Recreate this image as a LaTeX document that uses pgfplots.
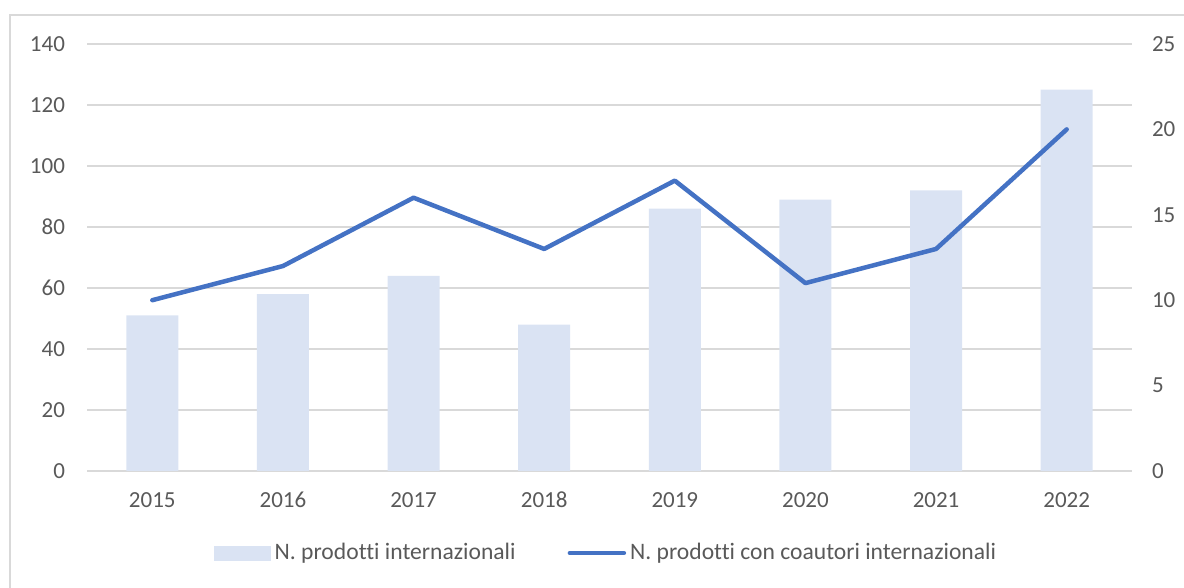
\documentclass[border=0pt]{standalone}
\usepackage{fontspec}
\setmainfont{Carlito}[Ligatures=NoCommon]
\usepackage{pgfplots}
\pgfplotsset{compat=1.18}
\definecolor{barfill}{HTML}{DAE3F3}
\definecolor{linecol}{HTML}{4472C4}
\definecolor{gridcol}{HTML}{D9D9D9}
\definecolor{txt}{HTML}{595959}
\begin{document}
\begin{tikzpicture}
\fontsize{11.5}{14}\selectfont
\path[use as bounding box] (0,0) rectangle (592pt,294pt);
\draw[gridcol, line width=0.8pt] (5pt,0) -- (5pt,286.5pt) -- (592pt,286.5pt);
\pgfplotsset{
  common/.style={
    scale only axis, width=522.5pt, height=213.5pt,
    at={(43.5pt,58.5pt)}, anchor=south west,
    xmin=-0.5, xmax=7.5,
    xtick={0,...,7},
    xticklabels={2015,2016,2017,2018,2019,2020,2021,2022},
    tick style={draw=none},
    ticklabel style={font=\fontsize{11.5}{14}\selectfont, text=txt},
    /pgf/number format/assume math mode=true,
    /pgf/number format/1000 sep={},
  }
}
\begin{axis}[common,
  ymin=0, ymax=140, ytick={0,20,...,140},
  axis line style={draw=none},
  ymajorgrids, grid style={gridcol, line width=0.8pt},
  xticklabel style={yshift=-6pt, text height=8pt, text depth=0pt, anchor=north},
  yticklabel style={xshift=-7pt},
]
\addplot[ybar, bar width=26pt, bar shift=0pt, fill=barfill, draw=none]
  coordinates {(0,51) (1,58) (2,64) (3,48) (4,86) (5,89) (6,92) (7,125)};
\end{axis}
\begin{axis}[common,
  ymin=0, ymax=25, ytick={0,5,...,25},
  axis y line*=right, axis x line=none,
  axis line style={draw=none},
  yticklabel style={xshift=6pt},
  legend style={at={(0.4976,-0.192)}, anchor=center, draw=none, fill=none,
    font=\fontsize{11.8}{14}\selectfont, text=txt,
    legend columns=2, /tikz/every even column/.append style={column sep=24pt},
    legend cell align=left, inner sep=0pt},
]
\addlegendimage{area legend, legend image code/.code={\fill[barfill] (0pt,-3.5pt) rectangle (28pt,3.5pt);}}
\addlegendentry{N. prodotti internazionali}
\addplot[linecol, line width=2.25pt, line join=round, line cap=round,
  legend image code/.code={\draw[linecol, line width=2.25pt, line cap=round] (0pt,0pt) -- (27pt,0pt);}]
  coordinates {(0,10) (1,12) (2,16) (3,13) (4,17) (5,11) (6,13) (7,20)};
\addlegendentry{N. prodotti con coautori internazionali}
\end{axis}
\end{tikzpicture}
\end{document}
